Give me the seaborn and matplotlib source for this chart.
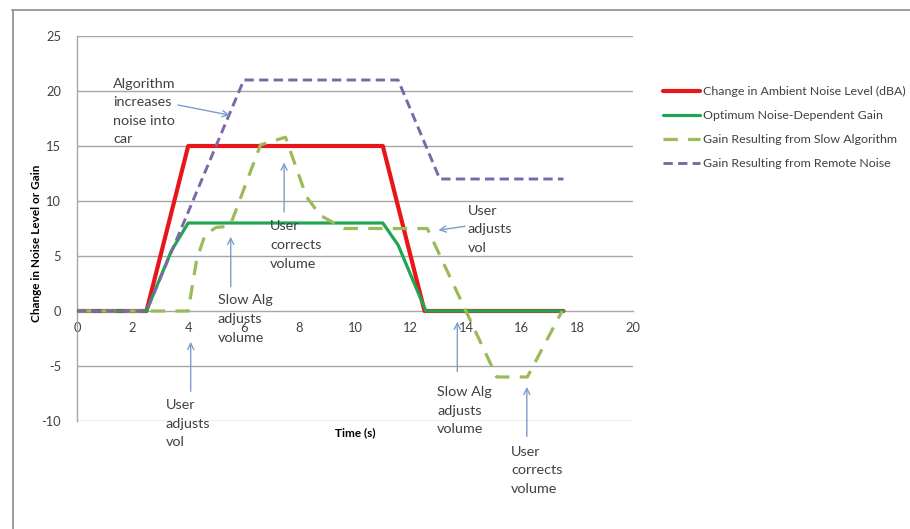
import matplotlib
matplotlib.use("Agg")
import matplotlib.pyplot as plt
from matplotlib.lines import Line2D
import seaborn as sns
import pandas as pd

# Series data: time (s) and level change / gain
ambient_t = [0, 2.5, 4, 11, 12.5, 17.5]
ambient_v = [0, 0, 15, 15, 0, 0]

optimum_t = [0, 2.5, 3.4, 4, 11, 11.55, 12.55, 17.5]
optimum_v = [0, 0, 5.5, 8, 8, 6, 0, 0]

slow_t = [0, 4, 4.3, 4.6, 5.0, 5.5, 6.6, 7.5, 8.25, 8.75, 9.6, 12.6, 15.1, 16.2, 17.45]
slow_v = [0, 0, 4.6, 6.9, 7.6, 7.7, 15.1, 15.8, 10.4, 8.7, 7.5, 7.5, -6, -6, 0]

remote_t = [0, 2.5, 6, 11.55, 13.05, 17.5]
remote_v = [0, 0, 21, 21, 12, 12]

series_names = [
    "Change in Ambient Noise Level (dBA)",
    "Optimum Noise-Dependent Gain",
    "Gain Resulting from Slow Algorithm",
    "Gain Resulting from Remote Noise",
]
x_ticks = [0, 2, 4, 6, 8, 10, 12, 14, 16, 18, 20]
y_ticks = [-10, -5, 0, 5, 10, 15, 20, 25]

sns.set_theme(style="white")
plt.rcParams["font.family"] = ["Lato", "DejaVu Sans"]
plt.rcParams["axes.unicode_minus"] = False

RED = "#E8161B"
GREEN = "#1FA650"
OLIVE = "#9BBB59"
PURPLE = "#7B68A6"
ARROW = "#7C9FCB"
TXT = "#404040"

fig = plt.figure(figsize=(9.10, 5.29), dpi=100)
ax = fig.add_axes([77 / 910, (529 - 421) / 529, (633 - 77) / 910, (421 - 36) / 529])

frames = {
    series_names[0]: pd.DataFrame({"t": ambient_t, "v": ambient_v}),
    series_names[1]: pd.DataFrame({"t": optimum_t, "v": optimum_v}),
    series_names[2]: pd.DataFrame({"t": slow_t, "v": slow_v}),
    series_names[3]: pd.DataFrame({"t": remote_t, "v": remote_v}),
}

sns.lineplot(data=frames[series_names[0]], x="t", y="v", ax=ax, color=RED,
             lw=3.0, sort=False, estimator=None, zorder=3)
sns.lineplot(data=frames[series_names[1]], x="t", y="v", ax=ax, color=GREEN,
             lw=2.3, sort=False, estimator=None, zorder=4)
sns.lineplot(data=frames[series_names[2]], x="t", y="v", ax=ax, color=OLIVE,
             lw=2.3, sort=False, estimator=None, zorder=5, dashes=False,
             linestyle=(0, (4.5, 3.2)))
sns.lineplot(data=frames[series_names[3]], x="t", y="v", ax=ax, color=PURPLE,
             lw=2.1, sort=False, estimator=None, zorder=6, dashes=False,
             linestyle=(0, (3.2, 1.8)))

ax.set_xlim(0, 20)
ax.set_ylim(-10, 25)
ax.set_xticks(x_ticks)
ax.set_yticks(y_ticks)
ax.set_xlabel("")
ax.set_ylabel("")

# Axes styling: horizontal grid, x-axis crossing at zero
for y in y_ticks:
    if y != 0:
        ax.axhline(y, color="#A6A6A6", lw=1.0, zorder=1)
for s in ["top", "right"]:
    ax.spines[s].set_visible(False)
ax.spines["bottom"].set_position(("data", 0))
ax.spines["bottom"].set_color("#A6A6A6")
ax.spines["bottom"].set_linewidth(1.0)
ax.spines["left"].set_color("#A6A6A6")
ax.spines["left"].set_linewidth(1.0)
ax.spines["bottom"].set_zorder(2)
ax.tick_params(axis="both", which="both", direction="out", length=4.5,
               width=1.0, color="#A6A6A6", labelcolor=TXT, labelsize=9.3)
ax.tick_params(axis="y", pad=7)
ax.tick_params(axis="x", pad=3.5)
ax.patch.set_alpha(0)

# Axis titles
ax.text(10, -11.1, "Time (s)", ha="center", va="center", fontsize=8.5,
        fontweight="bold", color="black")
fig.text(37 / 910, 1 - 243 / 529, "Change in Noise Level or Gain", rotation=90,
         ha="center", va="center", fontsize=8.5, fontweight="bold", color="black")

# Callouts with arrows
callouts = [
    ("Algorithm\nincreases\nnoise into\ncar", (1.3, 18.14), (3.63, 18.73), (5.5, 17.8)),
    ("User\ncorrects\nvolume", (6.94, 6.0), (7.45, 9.0), (7.45, 13.5)),
    ("Slow Alg\nadjusts\nvolume", (5.07, -0.73), (5.53, 2.2), (5.53, 6.75)),
    ("User\nadjusts\nvol", (14.05, 7.43), (13.96, 7.7), (13.0, 7.35)),
    ("User\nadjusts\nvol", (3.2, -10.25), (4.09, -7.3), (4.09, -2.8)),
    ("Slow Alg\nadjusts\nvolume", (12.96, -9.06), (13.68, -5.5), (13.68, -0.97)),
    ("User\ncorrects\nvolume", (15.61, -14.5), (16.18, -11.4), (16.18, -6.9)),
]
for label, pos, tail, head in callouts:
    ax.text(pos[0], pos[1], label, ha="left", va="center", fontsize=10.4,
            color=TXT, linespacing=1.66, zorder=8, clip_on=False)
    ax.annotate("", xy=head, xytext=tail,
                arrowprops=dict(arrowstyle="->", color=ARROW, lw=1.0,
                                shrinkA=0, shrinkB=0, mutation_scale=11),
                zorder=8, annotation_clip=False)

# Legend
handles = [
    Line2D([], [], color=RED, lw=3.0),
    Line2D([], [], color=GREEN, lw=2.3),
    Line2D([], [], color=OLIVE, lw=2.3, linestyle=(0, (4.5, 3.2))),
    Line2D([], [], color=PURPLE, lw=2.1, linestyle=(0, (3.2, 1.8))),
]
fig.legend(handles, series_names, loc="upper left",
           bbox_to_anchor=(663 / 910, 1 - 86 / 529), frameon=False,
           fontsize=8.9, handlelength=3.0, handletextpad=0.25,
           labelspacing=1.05, borderpad=0, borderaxespad=0,
           labelcolor=TXT)

# Chart area border
fig.add_artist(Line2D([12 / 910, 1], [1 - 9.5 / 529, 1 - 9.5 / 529],
                      transform=fig.transFigure, color="#8C8C8C", lw=1.2))
fig.add_artist(Line2D([12.5 / 910, 12.5 / 910], [0, 1 - 9.5 / 529],
                      transform=fig.transFigure, color="#8C8C8C", lw=1.2))

fig.savefig("out.png", dpi=100, facecolor="white")
